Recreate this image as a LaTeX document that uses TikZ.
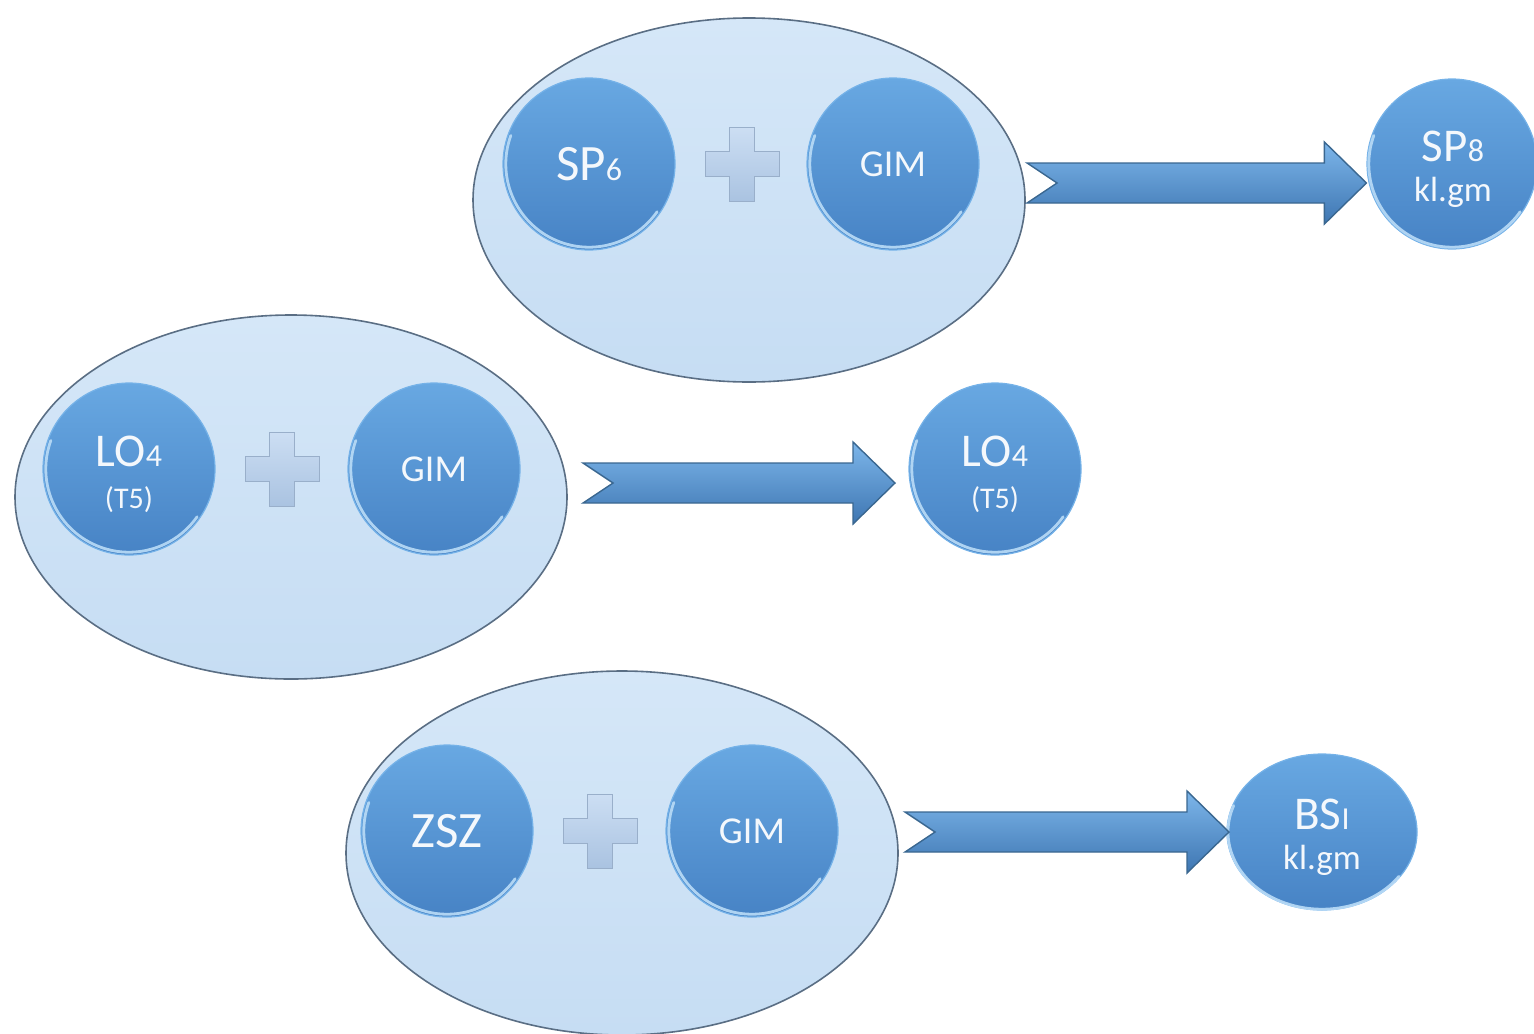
\documentclass[tikz,border=0pt]{standalone}
\usepackage{fontspec}
\setmainfont{Carlito}
\usetikzlibrary{shapes.geometric,calc}
\definecolor{ellT}{HTML}{D5E7F8}
\definecolor{ellB}{HTML}{C6DDF3}
\definecolor{ellRim}{HTML}{5A6E84}
\definecolor{ballT}{HTML}{68A8E2}
\definecolor{ballB}{HTML}{4783C5}
\definecolor{ballRim}{HTML}{75B2E8}
\definecolor{ballHi}{HTML}{BADCF7}
\definecolor{arrT}{HTML}{7DB6EA}
\definecolor{arrM}{HTML}{5B9BD7}
\definecolor{arrB}{HTML}{3E76B2}
\definecolor{arrRim}{HTML}{3A6790}
\definecolor{plusT}{HTML}{CCDEF3}
\definecolor{plusB}{HTML}{AAC3E1}
\definecolor{labtxt}{HTML}{F4F8FC}
\newcommand\smallsub[1]{{\fontsize{16}{16}\selectfont #1}}
\newcommand\blockarrow[2]{%
  \path[blockarr] ($(#1)+(0,-20)$) -- ($(#2)+(-42,-20)$) -- ($(#2)+(-42,-41)$) -- (#2)
   -- ($(#2)+(-42,41)$) -- ($(#2)+(-42,20)$) -- ($(#1)+(0,20)$) -- ($(#1)+(30,0)$) -- cycle;}
\newcommand\plussign[1]{%
  \path[plusmark] ($(#1)+(-12.5,-37)$) -- ($(#1)+(12.5,-37)$) -- ($(#1)+(12.5,-12.5)$)
   -- ($(#1)+(37,-12.5)$) -- ($(#1)+(37,12.5)$) -- ($(#1)+(12.5,12.5)$) -- ($(#1)+(12.5,37)$)
   -- ($(#1)+(-12.5,37)$) -- ($(#1)+(-12.5,12.5)$) -- ($(#1)+(-37,12.5)$) -- ($(#1)+(-37,-12.5)$)
   -- ($(#1)+(-12.5,-12.5)$) -- cycle;}
\newcommand\ballhi[1]{%
  \draw[ballHi, line width=1.4pt, line cap=round, opacity=0.9] ($(#1.center)+(160:41.6pt)$) arc[start angle=160, end angle=325, radius=41.6pt];}
\begin{document}
\begin{tikzpicture}[x=0.5pt,y=-0.5pt,
  bigell/.style={ellipse, minimum width=276pt, minimum height=182pt, inner sep=0pt,
    top color=ellT, bottom color=ellB, draw=ellRim, line width=0.8pt},
  ball/.style={circle, minimum size=86pt, inner sep=0pt, top color=ballT, bottom color=ballB,
    draw=ballRim, line width=0.6pt, text=labtxt, align=center, font=\fontsize{25.5}{24}\selectfont},
  lbl/.style={text=labtxt, align=center, inner sep=0pt, font=\fontsize{23.5}{22}\selectfont},
  gimtxt/.style={font=\fontsize{19}{19}\selectfont},
  blockarr/.style={top color=arrT, middle color=arrM, bottom color=arrB, draw=arrRim, line width=0.7pt, line join=miter},
  plusmark/.style={top color=plusT, bottom color=plusB, draw=plusB!90!black, line width=0.3pt}
]
\useasboundingbox (0,0) rectangle (1534,1033);
% groups
\node[bigell] (e1) at (749,200) {};
\node[bigell] (e2) at (291,497) {};
\node[bigell] (e3) at (622,853) {};
% top group
\node[ball] (sp6) at (589,164) {SP\smallsub{6}};
\node[ball, gimtxt] (gim1) at (893,164) {GIM};
\coordinate (p1) at (742,164);
\plussign{p1}
% middle group
\node[ball] (lo4) at (129,469) {};
\node[lbl] (lo4t) at (129,474) {LO\smallsub{4}\\[-1pt]{\fontsize{15}{15}\selectfont (T5)}};
\node[ball, gimtxt] (gim2) at (434,469) {GIM};
\coordinate (p2) at (282,469);
\plussign{p2}
% bottom group
\node[ball] (zsz) at (447,831) {ZSZ};
\node[ball, gimtxt] (gim3) at (752,831) {GIM};
\coordinate (p3) at (600,831);
\plussign{p3}
% results
\node[ball, minimum size=85pt] (sp8) at (1452,164) {};
\node[lbl] (sp8t) at (1453,169) {SP\smallsub{8}\\[-2pt]{\fontsize{17.5}{17.5}\selectfont kl.gm}};
\node[ball] (lo4r) at (995,469) {};
\node[lbl] (lo4rt) at (995,474) {LO\smallsub{4}\\[-1pt]{\fontsize{15}{15}\selectfont (T5)}};
\node[ball, ellipse, minimum width=95pt, minimum height=78pt] (bsi) at (1322,832) {};
\node[lbl] (bsit) at (1322,837) {BS\smallsub{I}\\[-2pt]{\fontsize{17.5}{17.5}\selectfont kl.gm}};
\foreach \n in {sp6,gim1,lo4,gim2,zsz,gim3,sp8,lo4r} {\ballhi{\n}}
\draw[ballHi, line width=1.4pt, line cap=round, opacity=0.9] ($(bsi.center)+(160:47pt and 38.6pt)$) arc[start angle=160, end angle=325, x radius=47pt, y radius=38.6pt];
% arrows
\coordinate (a1s) at (1027,183);
\coordinate (a1e) at (sp8.west |- a1s);
\coordinate (a2s) at (583,483);
\coordinate (a2e) at (895,483);
\coordinate (a3s) at (905,832);
\coordinate (a3e) at (1229,832);
\blockarrow{a1s}{a1e}
\blockarrow{a2s}{a2e}
\blockarrow{a3s}{a3e}
\end{tikzpicture}
\end{document}
